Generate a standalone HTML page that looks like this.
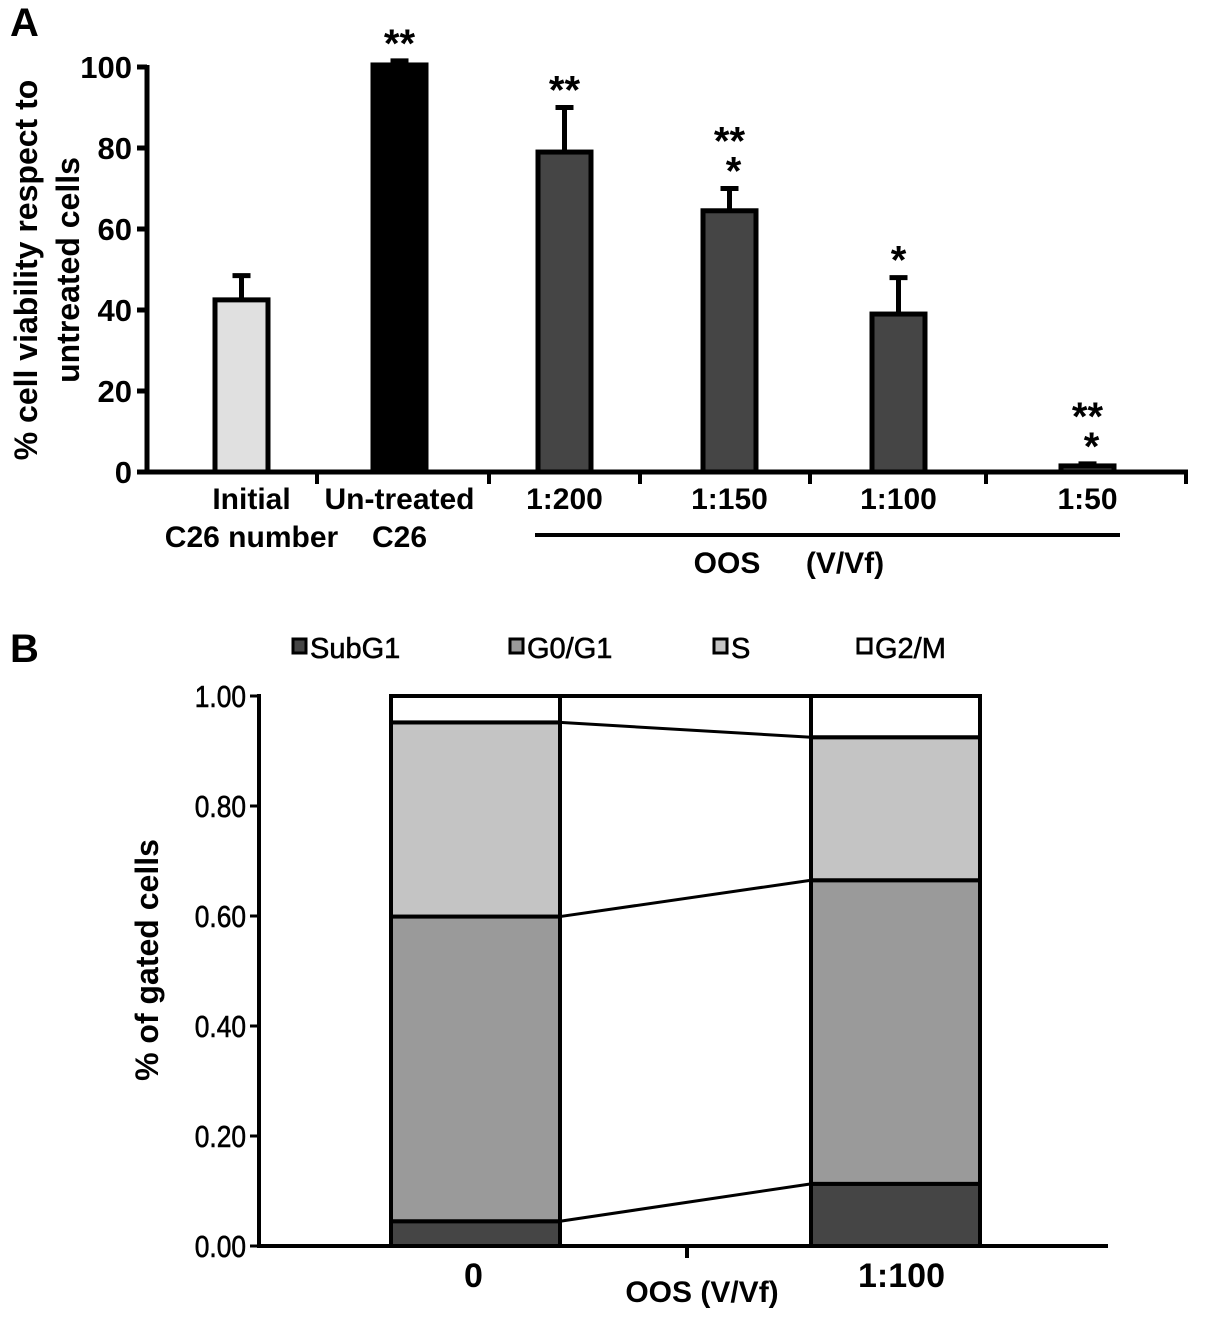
<!DOCTYPE html>
<html><head><meta charset="utf-8"><style>
body{margin:0;background:#fff}
svg{display:block;font-family:"Liberation Sans",sans-serif}
</style></head><body>
<svg id="c" width="1205" height="1319" viewBox="0 0 1205 1319" xmlns="http://www.w3.org/2000/svg">
<text x="10" y="36" font-size="40" font-weight="bold">A</text>
<text x="10" y="662" font-size="40" font-weight="bold">B</text>
<g id="pa"></g>
<g id="pb"></g>
</svg>
<script>
// Panel A data
const aCats=["Initial|C26 number","Un-treated|C26","1:200","1:150","1:100","1:50"];
const aVals=[42.5,100.5,79,64.5,39,1.5];
const aErr=[48.5,101.5,90,70,48,2];
const aStars=["","**","**","**|*","*","**|*"];
const aTicks=[0,20,40,60,80,100];
// Panel B data
const bCats=["0","1:100"];
const bSubG1=[0.045,0.113];
const bG0G1=[0.554,0.552];
const bS=[0.353,0.260];
const bG2M=[0.048,0.075];
const bTicks=["0.00","0.20","0.40","0.60","0.80","1.00"];
const bSeries=["SubG1","G0/G1","S","G2/M"];

const NS="http://www.w3.org/2000/svg";
function mk(p,t,a,txt){const e=document.createElementNS(NS,t);for(const k in a)e.setAttribute(k,a[k]);if(txt!==undefined)e.textContent=txt;p.appendChild(e);return e;}

// ---- Panel A
const pa=document.getElementById('pa');
const ay=v=>472-v*4.05;
const barL=[215,373,538,703,872,1061],barW=53;
const aFill=["#e0e0e0","#000","#454545","#454545","#454545","#454545"];
let e=mk(pa,'line',{x1:147,y1:472,x2:1188,y2:472,stroke:'#000','stroke-width':5});

e=mk(pa,'line',{x1:147,y1:65,x2:147,y2:474,stroke:'#000','stroke-width':5});

[317,489,640,810,986,1186].forEach(x=>{const t=mk(pa,'line',{x1:x,y1:472,x2:x,y2:484,stroke:'#000','stroke-width':4});
});
aTicks.forEach(v=>{const y=ay(v);
const t=mk(pa,'line',{x1:137,y1:y,x2:147,y2:y,stroke:'#000','stroke-width':5});

const l=mk(pa,'text',{x:132,y:y+11,'text-anchor':'end','font-size':31,'font-weight':'bold'},String(v));
});
aVals.forEach((v,i)=>{const x=barL[i],cx=x+barW/2;
const er=mk(pa,'line',{x1:cx,y1:ay(aErr[i]),x2:cx,y2:ay(v),stroke:'#000','stroke-width':5});

const cap=mk(pa,'line',{x1:cx-9,y1:ay(aErr[i]),x2:cx+9,y2:ay(aErr[i]),stroke:'#000','stroke-width':5});

const r=mk(pa,'rect',{x:x,y:ay(v),width:barW,height:472-ay(v),fill:aFill[i],stroke:'#000','stroke-width':5});

const lines=aCats[i].split('|');
lines.forEach((s,j)=>{const t=mk(pa,'text',{x:cx+(i==0?10:i==1?0:0),y:509+j*38,'text-anchor':'middle','font-size':30,'font-weight':'bold'},s);
});
if(aStars[i]){const st=aStars[i].split('|');const top=ay(aErr[i])-14-(st.length-1)*30;
st.forEach((s,j)=>{const t=mk(pa,'text',{x:cx+(j==1?4:0),y:top+j*30+10,'text-anchor':'middle','font-size':40,'font-weight':'bold'},s);
});}
});
e=mk(pa,'line',{x1:535,y1:535,x2:1120,y2:535,stroke:'#000','stroke-width':4});

e=mk(pa,'text',{x:727,y:573,'text-anchor':'middle','font-size':30,'font-weight':'bold'},'OOS');

e=mk(pa,'text',{x:845,y:573,'text-anchor':'middle','font-size':30,'font-weight':'bold'},'(V/Vf)');

e=mk(pa,'text',{transform:'translate(37,270) rotate(-90)','text-anchor':'middle','font-size':32,'font-weight':'bold'},'% cell viability respect to');

e=mk(pa,'text',{transform:'translate(79,270) rotate(-90)','text-anchor':'middle','font-size':32,'font-weight':'bold'},'untreated cells');


// ---- Panel B
const pb=document.getElementById('pb');
const by=v=>1246-v*550;
const bL=[391,811],bW=169;
const bFill=["#454545","#9a9a9a","#c4c4c4","#fff"];
const bData=[bSubG1,bG0G1,bS,bG2M];
e=mk(pb,'line',{x1:259,y1:1246,x2:1108,y2:1246,stroke:'#000','stroke-width':4});

e=mk(pb,'line',{x1:259,y1:694,x2:259,y2:1248,stroke:'#000','stroke-width':4});

e=mk(pb,'line',{x1:687,y1:1246,x2:687,y2:1258,stroke:'#000','stroke-width':4});

bTicks.forEach(s=>{const y=by(parseFloat(s));
const t=mk(pb,'line',{x1:250,y1:y,x2:259,y2:y,stroke:'#000','stroke-width':3});

const l=mk(pb,'text',{x:0,y:y+11,'text-anchor':'end','font-size':31,transform:'translate(246,0) scale(0.85,1)','stroke':'#000','stroke-width':0.6},s);
});
const cum=bCats.map((c,i)=>{let s=0;return bData.map(d=>{const r=[s,s+d[i]];s+=d[i];return r;});});
bCats.forEach((c,i)=>{const x=bL[i];
bData.forEach((d,k)=>{const [a,b]=cum[i][k];
const r=mk(pb,'rect',{x:x,y:by(b),width:bW,height:by(a)-by(b),fill:bFill[k],stroke:'#000','stroke-width':4});
});
const t=mk(pb,'text',{x:x+bW/2+(i==0?-2:6),y:1287,'text-anchor':'middle','font-size':34,'font-weight':'bold'},c);
});
for(let k=0;k<3;k++){const y0=by(cum[0][k][1]),y1=by(cum[1][k][1]);
const l=mk(pb,'line',{x1:bL[0]+bW,y1:y0,x2:bL[1],y2:y1,stroke:'#000','stroke-width':3});
}
e=mk(pb,'line',{x1:bL[0]+bW,y1:by(1),x2:bL[1],y2:by(1),stroke:'#000','stroke-width':4});

e=mk(pb,'text',{x:702,y:1302,'text-anchor':'middle','font-size':30,'font-weight':'bold'},'OOS (V/Vf)');

e=mk(pb,'text',{transform:'translate(158,960) rotate(-90)','text-anchor':'middle','font-size':32,'font-weight':'bold'},'% of gated cells');

const legX=[293,510,714,858];
bSeries.forEach((s,k)=>{const g=mk(pb,'g',{});

mk(g,'rect',{x:legX[k],y:639,width:13,height:14,fill:bFill[k],stroke:'#000','stroke-width':3});
mk(g,'text',{x:legX[k]+17,y:658,'font-size':29,stroke:'#000','stroke-width':0.6},s);});
</script>
</body></html>
